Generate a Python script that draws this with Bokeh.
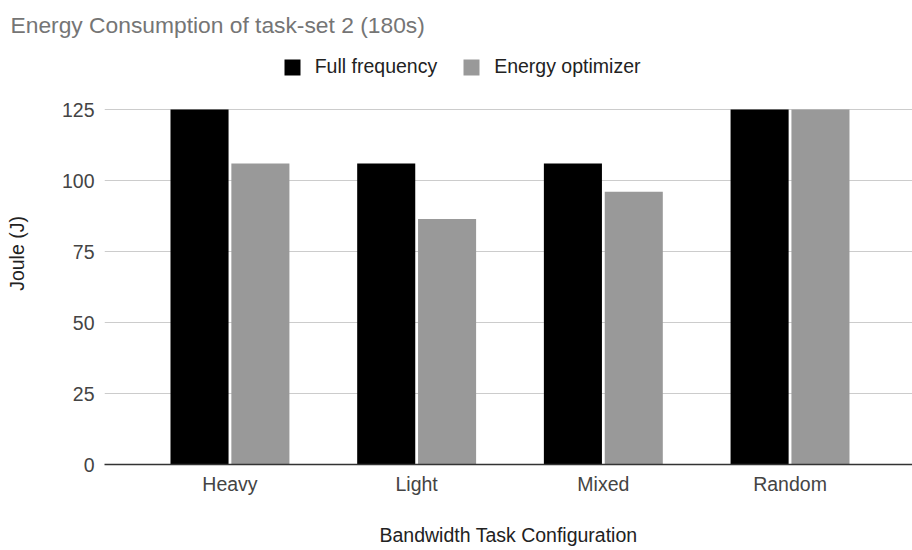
from bokeh.plotting import figure
from bokeh.models import (ColumnDataSource, Range1d, FixedTicker, Legend, LegendItem)
from bokeh.transform import dodge
from bokeh.embed import file_html
from bokeh.resources import INLINE

# Data
categories = ["Heavy", "Light", "Mixed", "Random"]
full_frequency = [125, 106, 106, 125]
energy_optimizer = [106, 86.4, 96, 125]
y_ticks = [0, 25, 50, 75, 100, 125]

title_text = "Energy Consumption of task-set 2 (180s)"
series_names = ["Full frequency", "Energy optimizer"]
series_colors = ["#000000", "#999999"]

FONT = "Liberation Sans"

# layout in pixels
TOP = 42          # top of plotting frame
BASE = 464        # y = 0 line
PX_PER_UNIT = 355 / 125

source = ColumnDataSource(dict(
    x=list(range(len(categories))),
    full=full_frequency,
    opt=energy_optimizer,
))

p = figure(
    width=912, height=550,
    x_range=Range1d(-0.672, 3.656),
    y_range=Range1d(0, (BASE - TOP) / PX_PER_UNIT),
    output_backend="svg",
    toolbar_location=None,
    min_border_left=104, min_border_right=0,
    min_border_top=TOP, min_border_bottom=550 - BASE,
)
p.outline_line_color = None
p.background_fill_color = "white"
p.border_fill_color = "white"

bar_w = 0.311
offset = 0.163
r_full = p.vbar(x=dodge("x", -offset), top="full", width=bar_w, bottom=0,
                source=source, fill_color=series_colors[0], line_color=None)
r_opt = p.vbar(x=dodge("x", offset), top="opt", width=bar_w, bottom=0,
               source=source, fill_color=series_colors[1], line_color=None)

# Title
p.title.text = title_text
p.title.align = "left"
p.title.offset = -94
p.title.text_font = FONT
p.title.text_font_size = "22.8px"
p.title.text_font_style = "normal"
p.title.text_color = "#757575"

# Axes
p.xaxis.ticker = FixedTicker(ticks=list(range(len(categories))))
p.xaxis.major_label_overrides = {i: c for i, c in enumerate(categories)}
p.yaxis.ticker = FixedTicker(ticks=y_ticks)

for ax in (p.xaxis[0], p.yaxis[0]):
    ax.major_tick_line_color = None
    ax.minor_tick_line_color = None
    ax.major_label_text_font = FONT
    ax.major_label_text_font_size = "19.5px"
    ax.major_label_text_color = "#444444"
    ax.axis_label_text_font = FONT
    ax.axis_label_text_font_size = "19.5px"
    ax.axis_label_text_font_style = "normal"
    ax.axis_label_text_color = "#222222"

p.xaxis.axis_line_color = "#333333"
p.xaxis.axis_line_width = 1.3
p.yaxis.axis_line_color = None
p.xaxis.major_label_standoff = 2
p.yaxis.major_label_standoff = 4
p.xaxis.axis_label = "Bandwidth Task Configuration"
p.xaxis.axis_label_standoff = 26
p.yaxis.axis_label = "Joule (J)"
p.yaxis.axis_label_standoff = 31

p.xgrid.grid_line_color = None
p.ygrid.grid_line_color = "#cccccc"
p.ygrid.grid_line_width = 1.2

# Legend, placed in the empty band above the bars
legend = Legend(
    items=[LegendItem(label=series_names[0], renderers=[r_full]),
           LegendItem(label=series_names[1], renderers=[r_opt])],
    orientation="horizontal",
    location=(177.7, BASE - 78),
    glyph_width=20, glyph_height=20,
    label_standoff=13, spacing=24,
    padding=0, margin=0,
    border_line_color=None, background_fill_alpha=0,
    label_text_font=FONT, label_text_font_size="19.5px",
    label_text_color="#222222",
)
p.add_layout(legend, "center")

open("out.html", "w").write(file_html(p, INLINE))
